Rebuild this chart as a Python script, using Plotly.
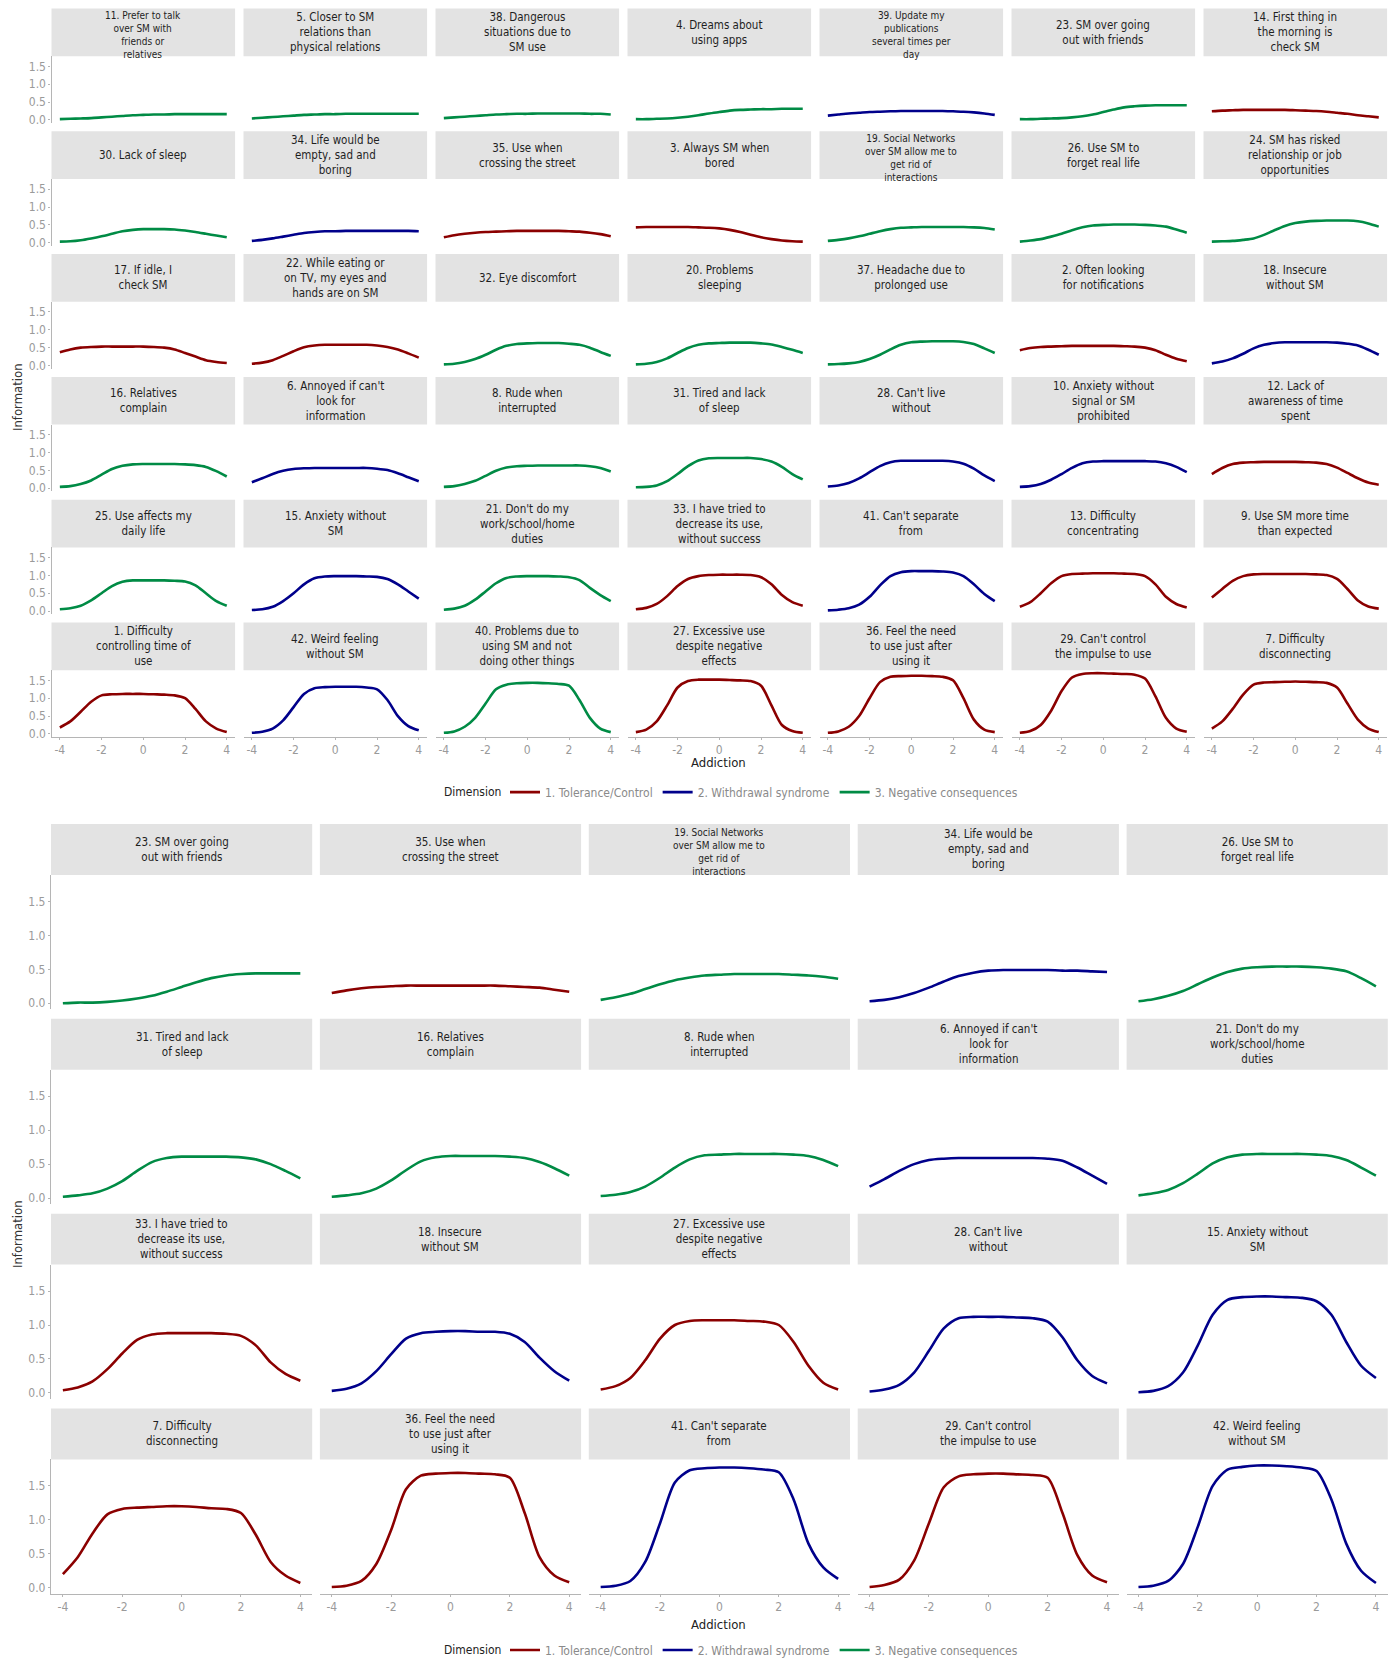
import plotly.graph_objects as go

# ---------------- data ----------------
THETA = [-4.0, -3.5, -3.0, -2.5, -2.0, -1.5, -1.0, -0.5, 0.0, 0.5, 1.0, 1.5, 2.0, 2.5, 3.0, 3.5, 4.0]

DIMENSIONS = ["1. Tolerance/Control", "2. Withdrawal syndrome", "3. Negative consequences"]
DIM_COLORS = ["#8B0000", "#00008B", "#008B45"]

X_TICKS = [-4, -2, 0, 2, 4]
X_TICK_TEXT = ["-4", "-2", "0", "2", "4"]
Y_TICKS = [0.0, 0.5, 1.0, 1.5]
Y_TICK_TEXT = ["0.0", "0.5", "1.0", "1.5"]

TOP_LABELS = [
    "11. Prefer to talk\nover SM with\nfriends or\nrelatives",
    "5. Closer to SM\nrelations than\nphysical relations",
    "38. Dangerous\nsituations due to\nSM use",
    "4. Dreams about\nusing apps",
    "39. Update my\npublications\nseveral times per\nday",
    "23. SM over going\nout with friends",
    "14. First thing in\nthe morning is\ncheck SM",
    "30. Lack of sleep",
    "34. Life would be\nempty, sad and\nboring",
    "35. Use when\ncrossing the street",
    "3. Always SM when\nbored",
    "19. Social Networks\nover SM allow me to\nget rid of\ninteractions",
    "26. Use SM to\nforget real life",
    "24. SM has risked\nrelationship or job\nopportunities",
    "17. If idle, I\ncheck SM",
    "22. While eating or\non TV, my eyes and\nhands are on SM",
    "32. Eye discomfort",
    "20. Problems\nsleeping",
    "37. Headache due to\nprolonged use",
    "2. Often looking\nfor notifications",
    "18. Insecure\nwithout SM",
    "16. Relatives\ncomplain",
    "6. Annoyed if can't\nlook for\ninformation",
    "8. Rude when\ninterrupted",
    "31. Tired and lack\nof sleep",
    "28. Can't live\nwithout",
    "10. Anxiety without\nsignal or SM\nprohibited",
    "12. Lack of\nawareness of time\nspent",
    "25. Use affects my\ndaily life",
    "15. Anxiety without\nSM",
    "21. Don't do my\nwork/school/home\nduties",
    "33. I have tried to\ndecrease its use,\nwithout success",
    "41. Can't separate\nfrom",
    "13. Difficulty\nconcentrating",
    "9. Use SM more time\nthan expected",
    "1. Difficulty\ncontrolling time of\nuse",
    "42. Weird feeling\nwithout SM",
    "40. Problems due to\nusing SM and not\ndoing other things",
    "27. Excessive use\ndespite negative\neffects",
    "36. Feel the need\nto use just after\nusing it",
    "29. Can't control\nthe impulse to use",
    "7. Difficulty\ndisconnecting",
]
TOP_DIMS = [3, 3, 3, 3, 2, 3, 1,
            3, 2, 1, 1, 3, 3, 3,
            1, 1, 3, 3, 3, 1, 2,
            3, 2, 3, 3, 2, 2, 1,
            3, 2, 3, 1, 2, 1, 1,
            1, 2, 3, 1, 1, 1, 1]
TOP_INFO = [
    [0.02, 0.03, 0.04, 0.05, 0.07, 0.09, 0.11, 0.13, 0.14, 0.15, 0.15, 0.16, 0.16, 0.16, 0.16, 0.16, 0.16],
    [0.04, 0.06, 0.08, 0.10, 0.12, 0.14, 0.15, 0.16, 0.16, 0.17, 0.17, 0.17, 0.17, 0.17, 0.17, 0.17, 0.17],
    [0.05, 0.07, 0.09, 0.11, 0.13, 0.15, 0.16, 0.17, 0.17, 0.18, 0.18, 0.18, 0.18, 0.18, 0.17, 0.17, 0.15],
    [0.02, 0.02, 0.03, 0.04, 0.06, 0.09, 0.13, 0.18, 0.22, 0.26, 0.28, 0.29, 0.30, 0.30, 0.31, 0.31, 0.31],
    [0.12, 0.15, 0.18, 0.20, 0.22, 0.23, 0.24, 0.25, 0.25, 0.25, 0.25, 0.25, 0.24, 0.23, 0.21, 0.18, 0.14],
    [0.02, 0.02, 0.03, 0.04, 0.05, 0.07, 0.10, 0.15, 0.22, 0.29, 0.35, 0.38, 0.40, 0.41, 0.41, 0.41, 0.41],
    [0.24, 0.26, 0.27, 0.28, 0.28, 0.28, 0.28, 0.28, 0.27, 0.26, 0.25, 0.23, 0.20, 0.17, 0.13, 0.10, 0.07],
    [0.03, 0.04, 0.07, 0.12, 0.18, 0.25, 0.32, 0.36, 0.38, 0.38, 0.38, 0.37, 0.34, 0.30, 0.25, 0.20, 0.15],
    [0.05, 0.08, 0.12, 0.17, 0.22, 0.27, 0.30, 0.32, 0.32, 0.33, 0.33, 0.33, 0.33, 0.33, 0.33, 0.33, 0.32],
    [0.15, 0.21, 0.25, 0.28, 0.30, 0.31, 0.32, 0.33, 0.33, 0.33, 0.33, 0.33, 0.32, 0.31, 0.28, 0.24, 0.18],
    [0.43, 0.44, 0.44, 0.44, 0.44, 0.44, 0.43, 0.42, 0.40, 0.36, 0.30, 0.22, 0.15, 0.10, 0.06, 0.04, 0.03],
    [0.05, 0.08, 0.12, 0.18, 0.25, 0.32, 0.38, 0.42, 0.43, 0.44, 0.44, 0.44, 0.44, 0.44, 0.43, 0.41, 0.37],
    [0.03, 0.06, 0.10, 0.17, 0.25, 0.35, 0.43, 0.48, 0.50, 0.51, 0.51, 0.51, 0.50, 0.48, 0.45, 0.37, 0.28],
    [0.03, 0.04, 0.05, 0.08, 0.12, 0.22, 0.35, 0.47, 0.55, 0.59, 0.61, 0.62, 0.62, 0.62, 0.60, 0.54, 0.45],
    [0.37, 0.45, 0.50, 0.52, 0.53, 0.53, 0.53, 0.53, 0.53, 0.52, 0.50, 0.45, 0.35, 0.25, 0.15, 0.10, 0.07],
    [0.05, 0.08, 0.15, 0.27, 0.40, 0.51, 0.56, 0.58, 0.58, 0.58, 0.58, 0.58, 0.56, 0.52, 0.45, 0.34, 0.22],
    [0.03, 0.05, 0.10, 0.18, 0.30, 0.44, 0.55, 0.60, 0.62, 0.63, 0.63, 0.63, 0.61, 0.58, 0.50, 0.38, 0.27],
    [0.03, 0.05, 0.10, 0.20, 0.35, 0.49, 0.58, 0.62, 0.63, 0.64, 0.64, 0.64, 0.62, 0.59, 0.52, 0.44, 0.35],
    [0.03, 0.04, 0.06, 0.10, 0.18, 0.30, 0.45, 0.58, 0.65, 0.67, 0.68, 0.68, 0.68, 0.66, 0.60, 0.48, 0.35],
    [0.43, 0.49, 0.52, 0.53, 0.54, 0.55, 0.55, 0.55, 0.55, 0.55, 0.54, 0.53, 0.50, 0.43, 0.30, 0.19, 0.12],
    [0.06, 0.11, 0.20, 0.33, 0.48, 0.58, 0.63, 0.65, 0.65, 0.65, 0.65, 0.65, 0.64, 0.61, 0.56, 0.44, 0.30],
    [0.04, 0.06, 0.12, 0.22, 0.38, 0.54, 0.63, 0.67, 0.68, 0.68, 0.68, 0.68, 0.67, 0.65, 0.60, 0.48, 0.33],
    [0.17, 0.28, 0.40, 0.49, 0.54, 0.56, 0.57, 0.57, 0.57, 0.57, 0.57, 0.57, 0.55, 0.51, 0.42, 0.31, 0.20],
    [0.04, 0.06, 0.12, 0.21, 0.35, 0.49, 0.58, 0.62, 0.63, 0.64, 0.64, 0.64, 0.64, 0.64, 0.62, 0.57, 0.47],
    [0.03, 0.04, 0.08, 0.20, 0.40, 0.62, 0.78, 0.84, 0.85, 0.85, 0.85, 0.85, 0.82, 0.75, 0.60, 0.40, 0.25],
    [0.05, 0.08, 0.15, 0.28, 0.45, 0.62, 0.73, 0.77, 0.77, 0.77, 0.77, 0.77, 0.75, 0.69, 0.55, 0.36, 0.20],
    [0.04, 0.06, 0.12, 0.24, 0.40, 0.57, 0.70, 0.75, 0.76, 0.76, 0.76, 0.76, 0.76, 0.75, 0.70, 0.60, 0.45],
    [0.40, 0.57, 0.68, 0.72, 0.73, 0.74, 0.74, 0.74, 0.74, 0.73, 0.72, 0.68, 0.58, 0.43, 0.28, 0.16, 0.10],
    [0.05, 0.08, 0.15, 0.30, 0.50, 0.70, 0.82, 0.86, 0.86, 0.86, 0.86, 0.85, 0.83, 0.72, 0.50, 0.28, 0.15],
    [0.03, 0.05, 0.12, 0.28, 0.50, 0.75, 0.92, 0.97, 0.98, 0.98, 0.98, 0.97, 0.96, 0.90, 0.75, 0.55, 0.35],
    [0.04, 0.07, 0.15, 0.32, 0.55, 0.78, 0.93, 0.97, 0.98, 0.98, 0.98, 0.97, 0.95, 0.87, 0.65, 0.45, 0.28],
    [0.05, 0.09, 0.20, 0.42, 0.70, 0.90, 0.98, 1.01, 1.02, 1.02, 1.02, 1.01, 0.95, 0.75, 0.45, 0.25, 0.15],
    [0.02, 0.04, 0.08, 0.18, 0.40, 0.72, 0.98, 1.09, 1.12, 1.12, 1.12, 1.11, 1.08, 0.98, 0.75, 0.48, 0.28],
    [0.12, 0.25, 0.50, 0.78, 0.98, 1.04, 1.05, 1.06, 1.06, 1.06, 1.05, 1.04, 0.98, 0.75, 0.40, 0.20, 0.10],
    [0.38, 0.62, 0.85, 0.98, 1.03, 1.04, 1.04, 1.04, 1.04, 1.04, 1.03, 1.01, 0.90, 0.62, 0.30, 0.13, 0.07],
    [0.18, 0.35, 0.62, 0.90, 1.08, 1.11, 1.12, 1.12, 1.12, 1.11, 1.10, 1.08, 1.00, 0.70, 0.35, 0.15, 0.05],
    [0.03, 0.06, 0.15, 0.38, 0.75, 1.12, 1.28, 1.31, 1.32, 1.32, 1.32, 1.30, 1.25, 0.95, 0.50, 0.22, 0.10],
    [0.03, 0.07, 0.20, 0.45, 0.85, 1.25, 1.38, 1.42, 1.43, 1.43, 1.42, 1.40, 1.35, 0.95, 0.45, 0.15, 0.05],
    [0.05, 0.12, 0.35, 0.80, 1.30, 1.48, 1.52, 1.52, 1.52, 1.51, 1.50, 1.48, 1.35, 0.80, 0.25, 0.08, 0.03],
    [0.03, 0.07, 0.20, 0.50, 1.00, 1.45, 1.60, 1.62, 1.63, 1.63, 1.62, 1.60, 1.50, 1.00, 0.40, 0.12, 0.05],
    [0.03, 0.08, 0.25, 0.65, 1.20, 1.58, 1.68, 1.70, 1.70, 1.69, 1.68, 1.66, 1.55, 1.05, 0.45, 0.15, 0.06],
    [0.15, 0.35, 0.70, 1.10, 1.38, 1.44, 1.45, 1.46, 1.47, 1.46, 1.45, 1.43, 1.30, 0.85, 0.40, 0.15, 0.05],
]

BOTTOM_LABELS = [
    "23. SM over going\nout with friends",
    "35. Use when\ncrossing the street",
    "19. Social Networks\nover SM allow me to\nget rid of\ninteractions",
    "34. Life would be\nempty, sad and\nboring",
    "26. Use SM to\nforget real life",
    "31. Tired and lack\nof sleep",
    "16. Relatives\ncomplain",
    "8. Rude when\ninterrupted",
    "6. Annoyed if can't\nlook for\ninformation",
    "21. Don't do my\nwork/school/home\nduties",
    "33. I have tried to\ndecrease its use,\nwithout success",
    "18. Insecure\nwithout SM",
    "27. Excessive use\ndespite negative\neffects",
    "28. Can't live\nwithout",
    "15. Anxiety without\nSM",
    "7. Difficulty\ndisconnecting",
    "36. Feel the need\nto use just after\nusing it",
    "41. Can't separate\nfrom",
    "29. Can't control\nthe impulse to use",
    "42. Weird feeling\nwithout SM",
]
BOTTOM_DIMS = [3, 1, 3, 2, 3,
               3, 3, 3, 2, 3,
               1, 2, 1, 2, 2,
               1, 1, 2, 1, 2]
BOTTOM_INFO = [
    [0.00, 0.01, 0.01, 0.02, 0.04, 0.07, 0.11, 0.17, 0.24, 0.31, 0.37, 0.41, 0.43, 0.44, 0.44, 0.44, 0.44],
    [0.15, 0.19, 0.22, 0.24, 0.25, 0.26, 0.26, 0.26, 0.26, 0.26, 0.26, 0.26, 0.25, 0.24, 0.23, 0.20, 0.17],
    [0.05, 0.09, 0.14, 0.21, 0.28, 0.34, 0.38, 0.41, 0.42, 0.43, 0.43, 0.43, 0.43, 0.42, 0.41, 0.39, 0.36],
    [0.03, 0.05, 0.09, 0.15, 0.23, 0.32, 0.40, 0.45, 0.48, 0.49, 0.49, 0.49, 0.49, 0.48, 0.48, 0.47, 0.46],
    [0.03, 0.06, 0.11, 0.18, 0.28, 0.38, 0.46, 0.51, 0.53, 0.54, 0.54, 0.54, 0.53, 0.51, 0.47, 0.37, 0.25],
    [0.02, 0.04, 0.07, 0.14, 0.25, 0.40, 0.53, 0.59, 0.61, 0.61, 0.61, 0.61, 0.60, 0.57, 0.50, 0.40, 0.29],
    [0.02, 0.04, 0.07, 0.14, 0.26, 0.41, 0.54, 0.60, 0.62, 0.62, 0.62, 0.62, 0.61, 0.59, 0.53, 0.44, 0.33],
    [0.03, 0.05, 0.09, 0.17, 0.30, 0.45, 0.57, 0.63, 0.64, 0.65, 0.65, 0.65, 0.65, 0.64, 0.62, 0.56, 0.47],
    [0.17, 0.28, 0.40, 0.50, 0.56, 0.58, 0.59, 0.59, 0.59, 0.59, 0.59, 0.59, 0.58, 0.55, 0.45, 0.33, 0.21],
    [0.04, 0.07, 0.12, 0.22, 0.36, 0.51, 0.60, 0.64, 0.65, 0.65, 0.65, 0.65, 0.64, 0.62, 0.56, 0.45, 0.33],
    [0.04, 0.08, 0.17, 0.35, 0.58, 0.78, 0.86, 0.88, 0.88, 0.88, 0.88, 0.87, 0.84, 0.70, 0.45, 0.28, 0.18],
    [0.03, 0.06, 0.14, 0.32, 0.57, 0.80, 0.88, 0.90, 0.91, 0.91, 0.90, 0.90, 0.87, 0.75, 0.52, 0.32, 0.18],
    [0.05, 0.10, 0.22, 0.48, 0.80, 1.00, 1.06, 1.07, 1.07, 1.07, 1.06, 1.05, 1.00, 0.75, 0.40, 0.15, 0.05],
    [0.02, 0.05, 0.12, 0.30, 0.62, 0.95, 1.10, 1.12, 1.12, 1.12, 1.11, 1.10, 1.05, 0.82, 0.48, 0.25, 0.14],
    [0.01, 0.03, 0.10, 0.30, 0.70, 1.15, 1.37, 1.41, 1.42, 1.42, 1.41, 1.40, 1.35, 1.15, 0.75, 0.40, 0.22],
    [0.20, 0.45, 0.80, 1.08, 1.16, 1.18, 1.19, 1.20, 1.20, 1.19, 1.17, 1.16, 1.10, 0.78, 0.38, 0.18, 0.07],
    [0.01, 0.03, 0.10, 0.35, 0.85, 1.45, 1.65, 1.68, 1.69, 1.69, 1.68, 1.67, 1.62, 1.10, 0.45, 0.18, 0.08],
    [0.01, 0.03, 0.10, 0.38, 0.95, 1.55, 1.73, 1.76, 1.77, 1.77, 1.76, 1.74, 1.70, 1.30, 0.65, 0.30, 0.13],
    [0.01, 0.04, 0.12, 0.40, 0.95, 1.48, 1.64, 1.67, 1.68, 1.68, 1.67, 1.66, 1.62, 1.10, 0.48, 0.18, 0.08],
    [0.01, 0.03, 0.10, 0.35, 0.90, 1.50, 1.74, 1.78, 1.80, 1.80, 1.79, 1.77, 1.72, 1.30, 0.65, 0.25, 0.07],
]

# ---------------- layout helpers ----------------
PAGE_W, PAGE_H = 1397, 1665
BODY_MARGIN = 8  # default page margin around the plot div
FW, FH = PAGE_W - BODY_MARGIN, PAGE_H - BODY_MARGIN
FONT = "Liberation Sans Narrow, DejaVu Sans Condensed, Arial Narrow, sans-serif"
TICK_COLOR = "#9a9a9a"
AXIS_LINE = "#b5b5b5"
STRIP_FILL = "#e3e3e3"
STRIP_TEXT = "#1f1f1f"


def px(x):
    """page pixel x -> paper coordinate"""
    return (x - BODY_MARGIN) / FW


def py(y):
    """page pixel y -> paper coordinate"""
    return 1 - (y - BODY_MARGIN) / FH


SECTIONS = [
    dict(labels=TOP_LABELS, dims=TOP_DIMS, info=TOP_INFO, ncol=7, nrow=6,
         left=51.5, colw=183.6, colp=192.0, top=8.5, sh=47.8, ph=66.9, rowp=123.1,
         yr=[-0.085, 1.785], legend="legend", xtitle=(718.7, 764), ytitle=(17, 398),
         legend_y=794),
    dict(labels=BOTTOM_LABELS, dims=BOTTOM_DIMS, info=BOTTOM_INFO, ncol=5, nrow=4,
         left=51.0, colw=261.2, colp=268.9, top=826.0, sh=51.0, ph=134.8, rowp=195.3,
         yr=[-0.09, 1.89], legend="legend2", xtitle=(718.7, 1628), ytitle=(17, 1237),
         legend_y=1654),
]

fig = go.Figure()
layout = dict(
    width=FW, height=FH, autosize=False,
    margin=dict(l=0, r=0, t=0, b=0),
    paper_bgcolor="white", plot_bgcolor="white",
    font=dict(family=FONT, size=12, color="#333333"),
    showlegend=True,
)
shapes = []
annotations = []
k = 0

for sec in SECTIONS:
    seen = set()
    for i, (label, dim, vals) in enumerate(zip(sec["labels"], sec["dims"], sec["info"])):
        k += 1
        r, c = divmod(i, sec["ncol"])
        x0 = sec["left"] + c * sec["colp"]
        x1 = x0 + sec["colw"]
        s_top = sec["top"] + r * sec["rowp"]
        p_top = s_top + sec["sh"]
        p_bot = p_top + sec["ph"]
        bottom_row = r == sec["nrow"] - 1
        first_col = c == 0
        xa = "xaxis" if k == 1 else f"xaxis{k}"
        ya = "yaxis" if k == 1 else f"yaxis{k}"
        layout[xa] = dict(
            domain=[px(x0), px(x1)], anchor=f"y{k}" if k > 1 else "y",
            range=[-4.4, 4.4], showgrid=False, zeroline=False,
            showline=bottom_row, linecolor=AXIS_LINE, linewidth=1.3,
            ticks="outside" if bottom_row else "", ticklen=2, tickcolor=AXIS_LINE,
            tickvals=X_TICKS, ticktext=X_TICK_TEXT, showticklabels=bottom_row,
            tickfont=dict(size=12, color=TICK_COLOR, family=FONT), fixedrange=True,
        )
        layout[ya] = dict(
            domain=[py(p_bot), py(p_top)], anchor=f"x{k}" if k > 1 else "x",
            range=sec["yr"], showgrid=False, zeroline=False,
            showline=first_col, linecolor=AXIS_LINE, linewidth=1.3,
            ticks="outside" if first_col else "", ticklen=2, tickcolor=AXIS_LINE,
            tickvals=Y_TICKS, ticktext=Y_TICK_TEXT, showticklabels=first_col,
            tickfont=dict(size=12, color=TICK_COLOR, family=FONT), fixedrange=True,
        )
        # strip background
        shapes.append(dict(type="rect", xref="paper", yref="paper",
                           x0=px(x0), x1=px(x1), y0=py(p_top), y1=py(s_top),
                           fillcolor=STRIP_FILL, line=dict(width=0), layer="below"))
        # strip text
        lines = label.split("\n")
        four = len(lines) >= 4
        fsize = 10 if four else 11.5
        cy = s_top + sec["sh"] / 2 + (2.5 if four else 0.0)
        annotations.append(dict(
            text="<br>".join(lines), xref="paper", yref="paper",
            x=px((x0 + x1) / 2), y=py(cy),
            xanchor="center", yanchor="middle", align="center", showarrow=False,
            borderpad=0,
            font=dict(size=fsize, color=STRIP_TEXT, family=FONT)))
        d = dim - 1
        show = d not in seen
        seen.add(d)
        fig.add_trace(go.Scatter(
            x=THETA, y=vals, mode="lines",
            line=dict(color=DIM_COLORS[d], width=2.6, shape="spline", smoothing=0.8),
            xaxis=f"x{k}" if k > 1 else "x", yaxis=f"y{k}" if k > 1 else "y",
            name=DIMENSIONS[d], legendgroup=f"{sec['legend']}_{d}",
            showlegend=show, legend=sec["legend"], legendrank=d + 1,
            hovertemplate="θ=%{x}<br>Info=%{y:.2f}<extra>" + label.replace("\n", " ") + "</extra>",
        ))
    # axis titles
    annotations.append(dict(text="Addiction", xref="paper", yref="paper",
                            x=px(sec["xtitle"][0]), y=py(sec["xtitle"][1]),
                            xanchor="center", yanchor="middle", showarrow=False,
                            font=dict(size=13, color="#222222", family=FONT)))
    annotations.append(dict(text="Information", xref="paper", yref="paper",
                            x=px(sec["ytitle"][0]), y=py(sec["ytitle"][1]),
                            xanchor="center", yanchor="middle", showarrow=False,
                            textangle=-90,
                            font=dict(size=13, color="#333333", family=FONT)))
    # legend title as a separate label, right-aligned before the legend items
    annotations.append(dict(text="Dimension", xref="paper", yref="paper",
                            x=px(503), y=py(sec["legend_y"]),
                            xanchor="right", yanchor="middle", showarrow=False,
                            font=dict(size=12, color="#222222", family=FONT)))
    layout[sec["legend"]] = dict(
        orientation="h", x=px(505), xanchor="left",
        y=py(sec["legend_y"]), yanchor="middle",
        font=dict(size=12, color="#8a8a8a", family=FONT),
        bgcolor="rgba(0,0,0,0)", itemwidth=30, tracegroupgap=0,
        traceorder="normal",
    )

layout["shapes"] = shapes
layout["annotations"] = annotations
fig.update_layout(**layout)
fig.write_html("out.html")
